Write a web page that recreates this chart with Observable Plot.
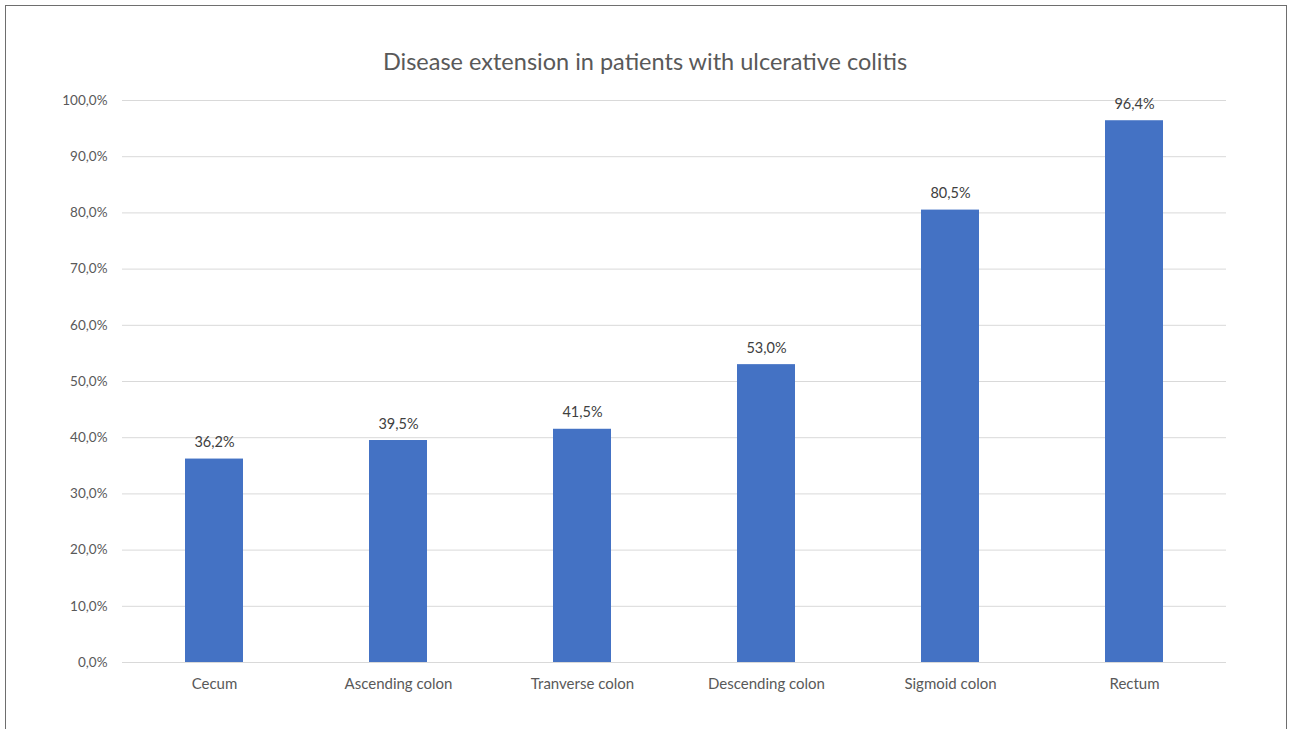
<!DOCTYPE html>
<html>
<head>
<meta charset="utf-8">
<script src="https://cdn.jsdelivr.net/npm/d3@7"></script>
<script src="https://cdn.jsdelivr.net/npm/@observablehq/plot@0.6"></script>
<style>
  html, body { margin: 0; padding: 0; background: #fff; overflow: hidden; }
  #frame { position: absolute; left: 5px; top: 5px; width: 1282px; height: 760px; border: 1px solid #6e6e6e; box-sizing: border-box; }
  #title { position: absolute; left: 0; top: 47px; width: 1290px; text-align: center; font-family: Lato, "Open Sans", sans-serif; font-size: 23.5px; color: #595959; }
  #chart { position: absolute; left: 0; top: 80px; }
</style>
</head>
<body>
<div id="frame"></div>
<div id="title">Disease extension in patients with ulcerative colitis</div>
<div id="chart"></div>
<script>
const categories = ["Cecum", "Ascending colon", "Tranverse colon", "Descending colon", "Sigmoid colon", "Rectum"];
const values = [36.2, 39.5, 41.5, 53.0, 80.5, 96.4];
const yTicks = [0, 10, 20, 30, 40, 50, 60, 70, 80, 90, 100];

const data = categories.map((c, i) => ({category: c, value: values[i]}));
const fmt = v => d3.format(".1f")(v).replace(".", ",") + "%";

const plot = Plot.plot({
  width: 1290,
  height: 640,
  marginLeft: 122,
  marginRight: 64,
  marginTop: 20,
  marginBottom: 58,
  style: { fontFamily: "Lato, 'Open Sans', sans-serif", fontSize: "13.5px", color: "#595959", background: "transparent" },
  x: { domain: categories, paddingInner: 0.685, paddingOuter: 0.3425, label: null },
  y: { domain: [0, 100], ticks: yTicks, tickFormat: fmt, label: null },
  marks: [
    Plot.gridY(yTicks, { stroke: "#d9d9d9", strokeOpacity: 1, strokeWidth: 1 }),
    Plot.barY(data, { x: "category", y: "value", fill: "#4472c4" }),
    Plot.text(data, { x: "category", y: "value", text: d => fmt(d.value), lineAnchor: "bottom", dy: -12, fill: "#404040", fontSize: 14.5 }),
    Plot.axisX({ tickSize: 0, tickPadding: 16, label: null, fill: "#595959", fontSize: 15 }),
    Plot.axisY({ ticks: yTicks, tickFormat: fmt, tickSize: 0, tickPadding: 15, label: null, fill: "#595959" })
  ]
});
document.getElementById("chart").appendChild(plot);
</script>
</body>
</html>
